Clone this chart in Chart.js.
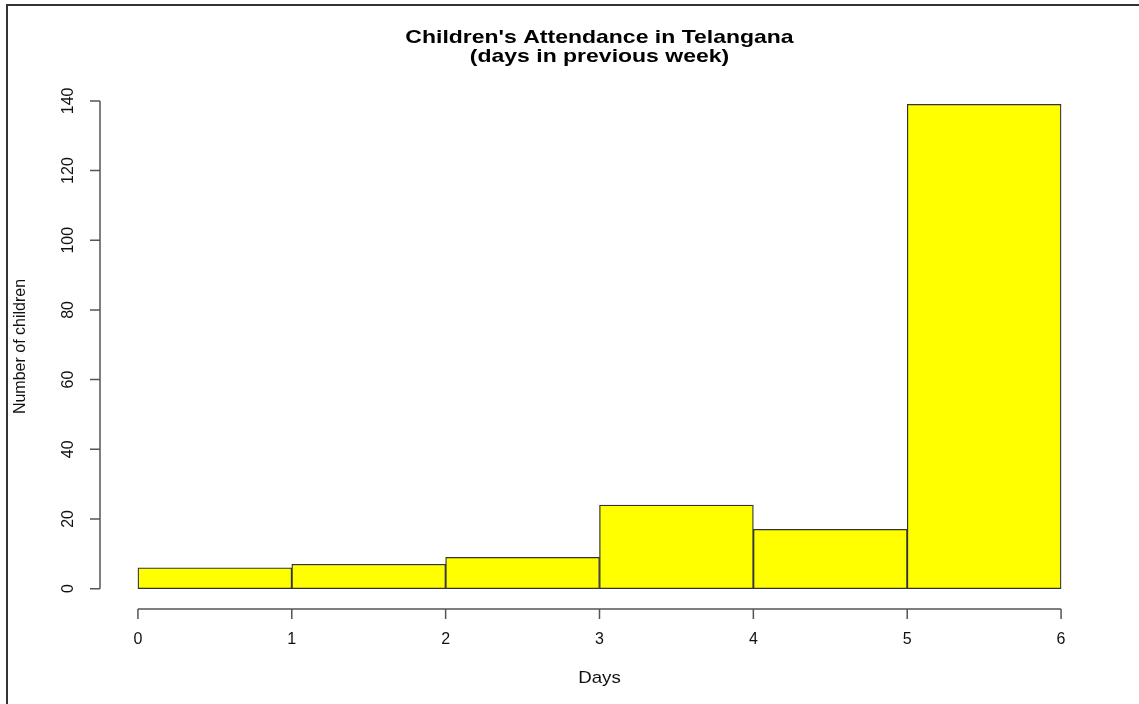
<!DOCTYPE html>
<html>
<head>
  <title>Children's Attendance in Telangana</title>
  <script src="https://cdn.jsdelivr.net/npm/chart.js"></script>
  <style>
    body {
      margin: 0;
      background: #fff;
    }
    #wrap {
      position: relative;
      width: 1139px;
      height: 704px;
    }
  </style>
</head>
<body>
  <div id="wrap">
    <canvas id="histChart" width="1139" height="704"></canvas>
  </div>
  <script>
    // histogram bins (days) and counts
    const BIN_EDGES = [0, 1, 2, 3, 4, 5, 6];
    const COUNTS = [6, 7, 9, 24, 17, 139];
    const X_TICKS = [0, 1, 2, 3, 4, 5, 6];
    const Y_TICKS = [0, 20, 40, 60, 80, 100, 120, 140];
    const TITLE_LINES = ["Children's Attendance in Telangana", "(days in previous week)"];
    const X_LABEL = "Days";
    const Y_LABEL = "Number of children";

    const FONT = '"Liberation Sans", Arial, Helvetica, sans-serif';

    // R-style detached axes, labels and title
    const rStyle = {
      id: 'rStyle',
      beforeDraw(chart) {
        const ctx = chart.ctx;
        ctx.save();
        ctx.fillStyle = '#fff';
        ctx.fillRect(0, 0, chart.width, chart.height);
        // frame of the screenshot
        ctx.strokeStyle = '#333';
        ctx.lineWidth = 2;
        ctx.beginPath();
        ctx.moveTo(7, chart.height);
        ctx.lineTo(7, 5);
        ctx.lineTo(chart.width, 5);
        ctx.stroke();
        ctx.restore();
      },
      afterDraw(chart) {
        const ctx = chart.ctx;
        const xs = chart.scales.x;
        const ys = chart.scales.y;
        const area = chart.chartArea;
        ctx.save();
        ctx.strokeStyle = '#555';
        ctx.lineWidth = 1.5;
        ctx.fillStyle = '#111';

        // y axis
        const ax = area.left - 1;
        ctx.beginPath();
        ctx.moveTo(ax, ys.getPixelForValue(Y_TICKS[0]));
        ctx.lineTo(ax, ys.getPixelForValue(Y_TICKS[Y_TICKS.length - 1]));
        Y_TICKS.forEach(v => {
          const py = ys.getPixelForValue(v);
          ctx.moveTo(ax, py);
          ctx.lineTo(ax - 10, py);
        });
        ctx.stroke();

        ctx.font = '16px ' + FONT;
        ctx.textAlign = 'center';
        ctx.textBaseline = 'middle';
        Y_TICKS.forEach(v => {
          ctx.save();
          ctx.translate(69, ys.getPixelForValue(v));
          ctx.rotate(-Math.PI / 2);
          ctx.fillText(String(v), 0, 0);
          ctx.restore();
        });

        // x axis
        const ay = area.bottom + 1;
        ctx.beginPath();
        ctx.moveTo(xs.getPixelForValue(X_TICKS[0]), ay);
        ctx.lineTo(xs.getPixelForValue(X_TICKS[X_TICKS.length - 1]), ay);
        X_TICKS.forEach(v => {
          const px = xs.getPixelForValue(v);
          ctx.moveTo(px, ay);
          ctx.lineTo(px, ay + 10);
        });
        ctx.stroke();

        ctx.textBaseline = 'alphabetic';
        X_TICKS.forEach(v => {
          ctx.fillText(String(v), xs.getPixelForValue(v), 644);
        });

        // axis titles
        const cx = (area.left + area.right) / 2;
        ctx.save();
        ctx.font = '17px ' + FONT;
        ctx.translate(cx, 683);
        ctx.scale(1.1, 1);
        ctx.fillText(X_LABEL, 0, 0);
        ctx.restore();

        ctx.save();
        ctx.font = '16px ' + FONT;
        ctx.textBaseline = 'middle';
        ctx.translate(21, (area.top + area.bottom) / 2);
        ctx.rotate(-Math.PI / 2);
        ctx.fillText(Y_LABEL, 0, 0);
        ctx.restore();

        // main title
        ctx.font = 'bold 19px ' + FONT;
        ctx.fillStyle = '#000';
        const baselines = [42.5, 62];
        TITLE_LINES.forEach((line, i) => {
          ctx.save();
          ctx.translate(cx, baselines[i]);
          ctx.scale(1.21, 1);
          ctx.fillText(line, 0, 0);
          ctx.restore();
        });

        ctx.restore();
      }
    };

    const barData = COUNTS.map((c, i) => ({
      x: (BIN_EDGES[i] + BIN_EDGES[i + 1]) / 2,
      y: c
    }));

    const ctx = document.getElementById('histChart').getContext('2d');
    new Chart(ctx, {
      type: 'bar',
      data: {
        datasets: [{
          label: Y_LABEL,
          data: barData,
          backgroundColor: '#ffff00',
          borderColor: '#333',
          borderWidth: 1.3,
          borderSkipped: false,
          barPercentage: 1,
          categoryPercentage: 1
        }]
      },
      options: {
        responsive: false,
        animation: false,
        layout: {
          padding: { top: 85, right: 41, bottom: 0, left: 0 }
        },
        plugins: {
          legend: { display: false },
          title: { display: false },
          tooltip: { enabled: false }
        },
        scales: {
          x: {
            type: 'linear',
            offset: false,
            min: -0.24,
            max: 6.24,
            grid: { display: false },
            border: { display: false },
            ticks: { display: false },
            afterFit(scale) { scale.height = 96; }
          },
          y: {
            min: -5.56,
            max: 144.56,
            grid: { display: false },
            border: { display: false },
            ticks: { display: false },
            afterFit(scale) { scale.width = 101; }
          }
        }
      },
      plugins: [rStyle]
    });
  </script>
</body>
</html>
